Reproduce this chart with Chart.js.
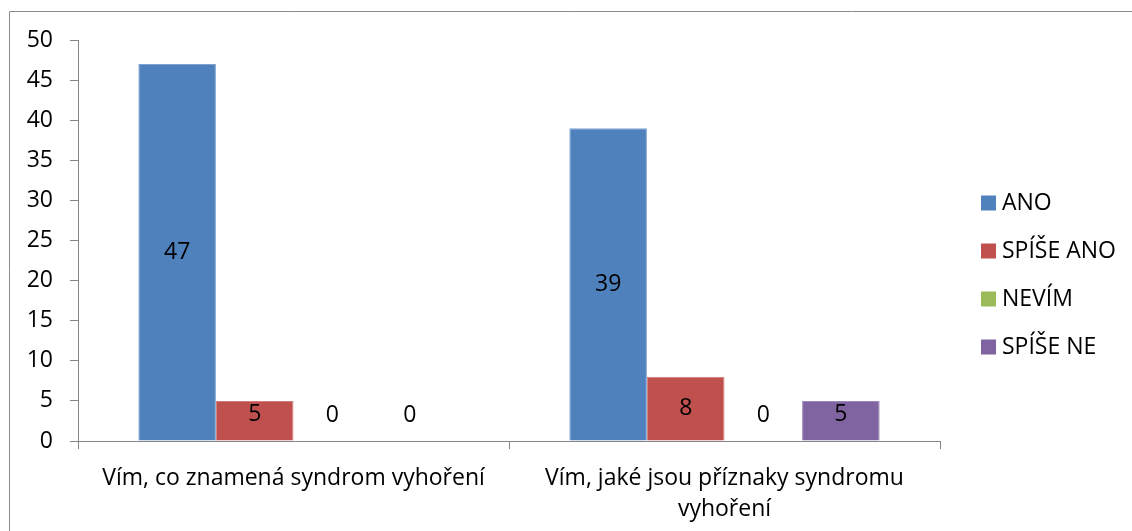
<!DOCTYPE html>
<html lang="cs">
<head>
  <meta charset="UTF-8">
  <title>Syndrom vyhoření</title>
  <script src="https://cdn.jsdelivr.net/npm/chart.js"></script>
  <style>
    html, body {
      margin: 0;
      padding: 0;
      background: #fff;
      overflow: hidden;
    }
    #chart {
      display: block;
    }
  </style>
</head>
<body>

<canvas id="chart" width="1132" height="531"></canvas>

<script>
const categories = [
  'Vím, co znamená syndrom vyhoření',
  ['Vím, jaké jsou příznaky syndromu', 'vyhoření']
];
const seriesNames = ['ANO', 'SPÍŠE ANO', 'NEVÍM', 'SPÍŠE NE'];
const ano = [47, 39];
const spiseAno = [5, 8];
const nevim = [0, 0];
const spiseNe = [0, 5];
const yTicks = { min: 0, max: 50, step: 5 };

const colors = ['#4F81BD', '#C0504D', '#9BBB59', '#8064A2'];
const edges = ['#7EA3D2', '#D27F7C', '#B5CF85', '#9C86BA'];
const axisColor = '#868686';
const font = { family: '"Open Sans", Lato, sans-serif', size: 23 };

// frame lines along the top and left of the picture
const frame = {
  id: 'frame',
  beforeDraw(chart) {
    const ctx = chart.ctx;
    ctx.save();
    ctx.strokeStyle = '#8a8a8a';
    ctx.lineWidth = 1;
    ctx.beginPath();
    ctx.moveTo(9.5, chart.height);
    ctx.lineTo(9.5, 11.5);
    ctx.lineTo(chart.width, 11.5);
    ctx.stroke();
    ctx.restore();
  }
};

// value labels in the middle of each bar, kept clear of the axis
const valueLabels = {
  id: 'valueLabels',
  afterDatasetsDraw(chart) {
    const ctx = chart.ctx;
    ctx.save();
    ctx.font = `${font.size}px ${font.family}`;
    ctx.fillStyle = '#000';
    ctx.textAlign = 'center';
    ctx.textBaseline = 'middle';
    chart.data.datasets.forEach((ds, i) => {
      chart.getDatasetMeta(i).data.forEach((bar, j) => {
        const y = Math.min((bar.y + bar.base) / 2, bar.base - 26);
        ctx.fillText(String(ds.data[j]), bar.x, y);
      });
    });
    ctx.restore();
  }
};

// legend on the right: square swatch + name
const sideLegend = {
  id: 'sideLegend',
  afterDraw(chart) {
    const ctx = chart.ctx;
    const x = 981, top = 203, gap = 48, box = 15;
    ctx.save();
    ctx.font = `${font.size}px ${font.family}`;
    ctx.textBaseline = 'middle';
    ctx.textAlign = 'left';
    chart.data.datasets.forEach((ds, i) => {
      const cy = top + i * gap;
      ctx.fillStyle = ds.backgroundColor;
      ctx.fillRect(x, cy - box / 2, box, box);
      ctx.fillStyle = '#000';
      ctx.fillText(ds.label, x + box + 6, cy);
    });
    ctx.restore();
  }
};

const values = [ano, spiseAno, nevim, spiseNe];

new Chart(document.getElementById('chart'), {
  type: 'bar',
  data: {
    labels: categories,
    datasets: seriesNames.map((name, i) => ({
      label: name,
      data: values[i],
      backgroundColor: colors[i],
      borderColor: edges[i],
      borderWidth: 1,
      categoryPercentage: 0.72,
      barPercentage: 1
    }))
  },
  options: {
    responsive: false,
    animation: false,
    layout: { padding: { top: 40, right: 192, left: 0, bottom: 0 } },
    plugins: {
      legend: { display: false },
      tooltip: { enabled: false }
    },
    scales: {
      x: {
        grid: {
          offset: true,
          drawOnChartArea: false,
          drawTicks: true,
          tickLength: 8,
          color: axisColor
        },
        border: { color: axisColor, width: 1 },
        ticks: {
          color: '#000',
          font: { ...font, lineHeight: 1.35 },
          padding: 14,
          maxRotation: 0
        },
        afterFit(scale) { scale.height = 90; }
      },
      y: {
        min: yTicks.min,
        max: yTicks.max,
        grid: {
          drawOnChartArea: false,
          drawTicks: true,
          tickLength: 8,
          color: axisColor
        },
        border: { color: axisColor, width: 1 },
        ticks: {
          stepSize: yTicks.step,
          color: '#000',
          font: font,
          padding: 17
        },
        afterFit(scale) { scale.width = 78; }
      }
    }
  },
  plugins: [frame, valueLabels, sideLegend]
});
</script>
</body>
</html>
